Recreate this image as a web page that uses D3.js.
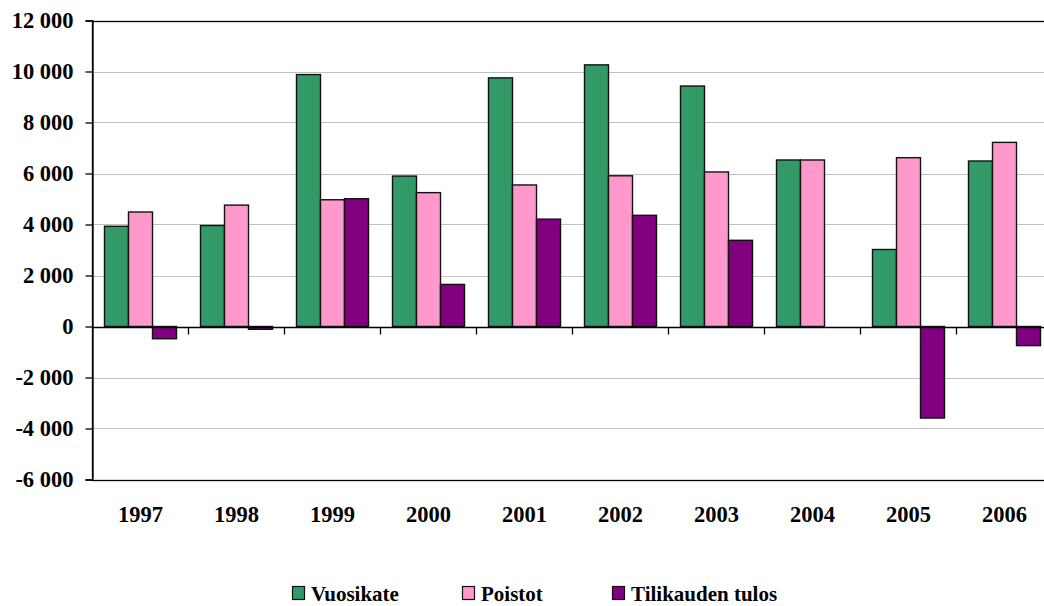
<!DOCTYPE html>
<html>
<head>
<meta charset="utf-8">
<script src="https://cdn.jsdelivr.net/npm/d3@7"></script>
<style>
  body { margin: 0; background: #fff; }
  svg { display: block; }
  text { font-family: 'Liberation Serif', 'Times New Roman', serif; font-weight: bold; }
</style>
</head>
<body>
<div id="chart"></div>
<script>
// data
var years = ["1997", "1998", "1999", "2000", "2001", "2002", "2003", "2004", "2005", "2006"];
var seriesNames = ["Vuosikate", "Poistot", "Tilikauden tulos"];
var vuosikate = [3930, 3960, 9880, 5900, 9750, 10260, 9430, 6530, 3020, 6490];
var poistot = [4490, 4760, 4970, 5250, 5550, 5910, 6060, 6530, 6620, 7220];
var tulos = [-480, -110, 5010, 1650, 4210, 4360, 3380, 0, -3590, -750];
var yTicks = [-6000, -4000, -2000, 0, 2000, 4000, 6000, 8000, 10000, 12000];
var colors = ["#339966", "#FF99CC", "#800080"];

var width = 1044, height = 606;
var plotLeft = 92.5, plotRight = 1052.5, plotTop = 20.5, plotBottom = 479.5;
var font = "'Liberation Serif', 'Times New Roman', serif";

var svg = d3.select("#chart").append("svg")
    .attr("width", width)
    .attr("height", height);

var x = d3.scaleBand().domain(years).range([plotLeft, plotRight]);
var xs = d3.scaleBand().domain(seriesNames).range([0, x.bandwidth()]).paddingOuter(0.5);
var y = d3.scaleLinear().domain([-6000, 12000]).range([plotBottom, plotTop]);

var rows = years.map(function (yr, i) {
    return { year: yr, values: [vuosikate[i], poistot[i], tulos[i]] };
});

// gridlines
svg.append("g").selectAll("line")
    .data(yTicks)
    .enter().append("line")
    .attr("x1", plotLeft).attr("x2", plotRight)
    .attr("y1", function (d) { return Math.round(y(d)) + 0.5; })
    .attr("y2", function (d) { return Math.round(y(d)) + 0.5; })
    .attr("stroke", "#c0c0c0")
    .attr("stroke-width", 1);

// plot border
svg.append("rect")
    .attr("x", plotLeft).attr("y", Math.round(y(12000)) + 0.5)
    .attr("width", plotRight - plotLeft)
    .attr("height", Math.round(y(-6000)) - Math.round(y(12000)))
    .attr("fill", "none")
    .attr("stroke", "#000")
    .attr("stroke-width", 1.3);

// bars
var groups = svg.append("g").selectAll("g")
    .data(rows)
    .enter().append("g")
    .attr("transform", function (d) { return "translate(" + x(d.year) + ",0)"; });

groups.selectAll("rect")
    .data(function (d) { return d.values.map(function (v, j) { return { name: seriesNames[j], value: v, c: colors[j] }; }); })
    .enter().filter(function (d) { return d.value !== 0; })
    .append("rect")
    .attr("x", function (d) { return xs(d.name); })
    .attr("width", xs.bandwidth())
    .attr("y", function (d) { return y(Math.max(0, d.value)); })
    .attr("height", function (d) { return Math.abs(y(d.value) - y(0)); })
    .attr("fill", function (d) { return d.c; })
    .attr("stroke", "#111")
    .attr("stroke-width", 1.4);

// y axis
var yAxis = svg.append("g")
    .attr("transform", "translate(" + plotLeft + ",0)")
    .call(d3.axisLeft(y).tickValues(yTicks).tickSize(7).tickPadding(12)
        .tickFormat(function (d) { return d3.format(",")(d).replace(/,/g, " ").replace("\u2212", "-"); }));
yAxis.attr("font-family", null);
yAxis.select(".domain").attr("stroke", "#000").attr("stroke-width", 1.3);
yAxis.selectAll(".tick line").attr("stroke", "#000").attr("stroke-width", 1.3);
yAxis.selectAll("text")
    .style("font-family", font)
    .style("font-weight", "bold")
    .style("font-size", "22.5px")
    .attr("fill", "#000")
    .attr("dy", "0.33em");

// x axis at zero
var zeroY = Math.round(y(0)) + 0.5;
svg.append("line")
    .attr("x1", plotLeft).attr("x2", plotRight)
    .attr("y1", zeroY).attr("y2", zeroY)
    .attr("stroke", "#000").attr("stroke-width", 1.3);

svg.append("g").selectAll("line")
    .data(years)
    .enter().append("line")
    .attr("x1", function (d) { return x(d) + x.bandwidth(); })
    .attr("x2", function (d) { return x(d) + x.bandwidth(); })
    .attr("y1", zeroY).attr("y2", zeroY + 7)
    .attr("stroke", "#000").attr("stroke-width", 1.3);

svg.append("g").selectAll("text")
    .data(years)
    .enter().append("text")
    .attr("x", function (d) { return x(d) + x.bandwidth() / 2; })
    .attr("y", 522)
    .attr("text-anchor", "middle")
    .style("font-size", "22.5px")
    .text(function (d) { return d; });

// legend
var legendX = [292, 462, 612];
var legend = svg.append("g").selectAll("g")
    .data(seriesNames)
    .enter().append("g")
    .attr("transform", function (d, i) { return "translate(" + legendX[i] + ",586)"; });

legend.append("rect")
    .attr("x", 0.5).attr("y", 0.5)
    .attr("width", 12).attr("height", 13)
    .attr("fill", function (d, i) { return colors[i]; })
    .attr("stroke", "#111")
    .attr("stroke-width", 1.2);

legend.append("text")
    .attr("x", 19)
    .attr("y", 15)
    .style("font-size", "21px")
    .text(function (d) { return d; });
</script>
</body>
</html>
